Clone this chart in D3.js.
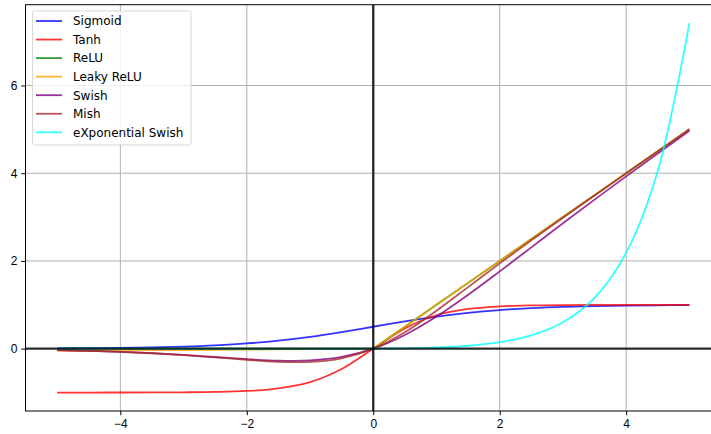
<!DOCTYPE html>
<html>
<head>
<meta charset="utf-8">
<script src="https://cdn.jsdelivr.net/npm/d3@7"></script>
<style>
    body { margin: 0; background: #fff; }
    svg { display: block; font-family: "DejaVu Sans", sans-serif; }
</style>
</head>
<body>
<svg id="chart"></svg>
<script>
// sample positions along x
const xs = [-5, -4.5, -4, -3.5, -3, -2.5, -2, -1.5, -1, -0.5, 0, 0.5, 1, 1.5, 2, 2.5, 3, 3.5, 4, 4.5, 5];

const sigmoid = [0.007, 0.011, 0.018, 0.029, 0.047, 0.076, 0.119, 0.182, 0.269, 0.378, 0.5,
    0.622, 0.731, 0.818, 0.881, 0.924, 0.953, 0.971, 0.982, 0.989, 0.993];
const tanh = [-1.0, -1.0, -0.999, -0.998, -0.995, -0.987, -0.964, -0.905, -0.762, -0.462, 0,
    0.462, 0.762, 0.905, 0.964, 0.987, 0.995, 0.998, 0.999, 1.0, 1.0];
const relu = [0, 0, 0, 0, 0, 0, 0, 0, 0, 0, 0,
    0.5, 1, 1.5, 2, 2.5, 3, 3.5, 4, 4.5, 5];
const leakyRelu = [-0.05, -0.045, -0.04, -0.035, -0.03, -0.025, -0.02, -0.015, -0.01, -0.005, 0,
    0.5, 1, 1.5, 2, 2.5, 3, 3.5, 4, 4.5, 5];
const swish = [-0.033, -0.05, -0.072, -0.103, -0.142, -0.19, -0.238, -0.273, -0.269, -0.189, 0,
    0.311, 0.731, 1.227, 1.762, 2.31, 2.858, 3.398, 3.928, 4.45, 4.967];
const mish = [-0.034, -0.05, -0.073, -0.104, -0.146, -0.197, -0.253, -0.298, -0.303, -0.221, 0,
    0.375, 0.865, 1.403, 1.944, 2.471, 2.987, 3.494, 3.997, 4.499, 5.0];
const expSwish = [0, -0.001, -0.001, -0.001, -0.002, -0.002, -0.003, -0.003, -0.004, -0.003, 0,
    0.008, 0.027, 0.067, 0.148, 0.305, 0.603, 1.159, 2.184, 4.051, 7.421];

const series = [
    { name: "Sigmoid", values: sigmoid, color: "blue", smooth: true },
    { name: "Tanh", values: tanh, color: "red", smooth: true },
    { name: "ReLU", values: relu, color: "green", smooth: false },
    { name: "Leaky ReLU", values: leakyRelu, color: "orange", smooth: false },
    { name: "Swish", values: swish, color: "purple", smooth: true },
    { name: "Mish", values: mish, color: "brown", smooth: true },
    { name: "eXponential Swish", values: expSwish, color: "cyan", smooth: true },
];

const xTicks = [-4, -2, 0, 2, 4];
const yTicks = [0, 2, 4, 6];

const width = 711;
const height = 434;
const plot = { left: 25.5, top: 4.7, right: 721, bottom: 411 };

const svg = d3.select("#chart")
    .attr("width", width)
    .attr("height", height)
    .attr("viewBox", [0, 0, width, height]);

// matplotlib-like 5% padding around the data
const xExt = d3.extent(xs);
const yExt = d3.extent(series.flatMap(s => s.values));
const xPad = (xExt[1] - xExt[0]) * 0.05;
const yPad = (yExt[1] - yExt[0]) * 0.05;

const xScale = d3.scaleLinear()
    .domain([xExt[0] - xPad, xExt[1] + xPad])
    .range([plot.left, plot.right]);
const yScale = d3.scaleLinear()
    .domain([yExt[0] - yPad, yExt[1] + yPad])
    .range([plot.bottom, plot.top]);

// grid
const grid = svg.append("g").attr("stroke", "#b0b0b0").attr("stroke-width", 1);
grid.selectAll(".gx").data(xTicks).join("line")
    .attr("x1", d => xScale(d)).attr("x2", d => xScale(d))
    .attr("y1", plot.top).attr("y2", plot.bottom);
grid.selectAll(".gy").data(yTicks).join("line")
    .attr("x1", plot.left).attr("x2", plot.right)
    .attr("y1", d => yScale(d)).attr("y2", d => yScale(d));

// curves
const smoothLine = d3.line()
    .x((d, i) => xScale(xs[i]))
    .y(d => yScale(d))
    .curve(d3.curveCatmullRom);
const straightLine = d3.line()
    .x((d, i) => xScale(xs[i]))
    .y(d => yScale(d));

svg.append("g")
    .selectAll("path")
    .data(series)
    .join("path")
    .attr("fill", "none")
    .attr("stroke", d => d.color)
    .attr("stroke-opacity", 0.8)
    .attr("stroke-width", 1.8)
    .attr("stroke-linejoin", "round")
    .attr("d", d => (d.smooth ? smoothLine : straightLine)(d.values));

// zero lines
svg.append("line")
    .attr("x1", plot.left).attr("x2", plot.right)
    .attr("y1", yScale(0)).attr("y2", yScale(0))
    .attr("stroke", "#000").attr("stroke-opacity", 0.8).attr("stroke-width", 2.4);
svg.append("line")
    .attr("x1", xScale(0)).attr("x2", xScale(0))
    .attr("y1", plot.top).attr("y2", plot.bottom)
    .attr("stroke", "#000").attr("stroke-opacity", 0.8).attr("stroke-width", 2.4);

// axes
svg.append("g")
    .attr("transform", `translate(0,${ plot.bottom })`)
    .call(d3.axisBottom(xScale).tickValues(xTicks).tickSize(4.2).tickPadding(4).tickSizeOuter(0))
    .call(g => g.select(".domain").remove())
    .call(g => g.selectAll("text").attr("font-size", 12).attr("fill", "#000"));
svg.append("g")
    .attr("transform", `translate(${ plot.left },0)`)
    .call(d3.axisLeft(yScale).tickValues(yTicks).tickSize(4.2).tickPadding(4).tickSizeOuter(0))
    .call(g => g.select(".domain").remove())
    .call(g => g.selectAll("text").attr("font-size", 12).attr("fill", "#000"));

// spines
svg.append("rect")
    .attr("x", plot.left).attr("y", plot.top)
    .attr("width", plot.right - plot.left).attr("height", plot.bottom - plot.top)
    .attr("fill", "none").attr("stroke", "#000").attr("stroke-width", 1);

// legend
const legend = svg.append("g");
legend.append("rect")
    .attr("x", 32.5).attr("y", 11)
    .attr("width", 158.5).attr("height", 134)
    .attr("rx", 2.5)
    .attr("fill", "#fff").attr("fill-opacity", 0.8)
    .attr("stroke", "#ccc").attr("stroke-opacity", 0.8);
const rows = legend.selectAll(".row").data(series).join("g")
    .attr("transform", (d, i) => `translate(0,${ 21 + i * 18.55 })`);
rows.append("line")
    .attr("x1", 36).attr("x2", 62)
    .attr("stroke", d => d.color).attr("stroke-opacity", 0.8).attr("stroke-width", 1.8);
rows.append("text")
    .attr("x", 73).attr("dy", "0.36em")
    .attr("font-size", 12)
    .text(d => d.name);
</script>
</body>
</html>
